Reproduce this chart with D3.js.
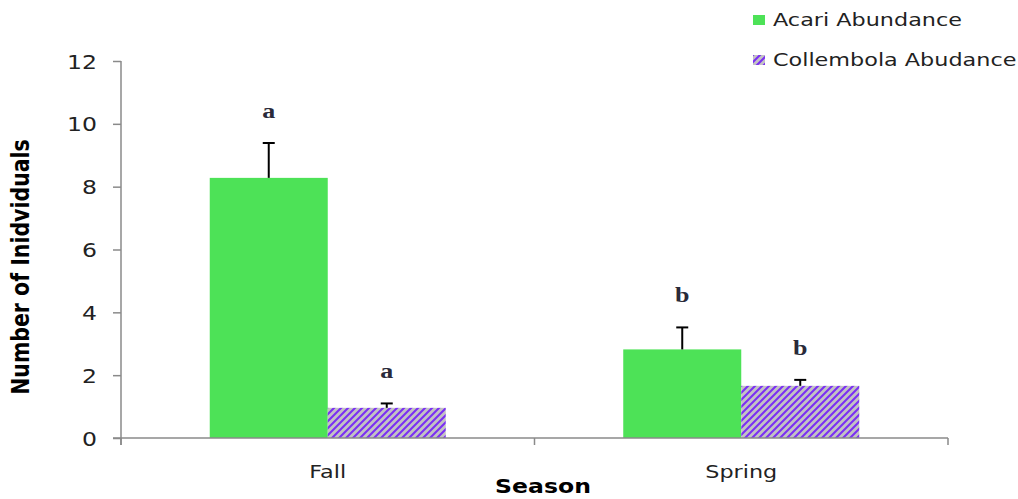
<!DOCTYPE html>
<html>
<head>
<meta charset="utf-8">
<script src="https://cdn.jsdelivr.net/npm/d3@7"></script>
<style>
  html, body { margin: 0; padding: 0; background: #fff; }
  svg { display: block; }
</style>
</head>
<body>
<svg id="chart" width="1018" height="499"></svg>
<script>
// Mean abundance per season, with standard error and significance letters
const seasons = ["Fall", "Spring"];
const seriesNames = ["Acari Abundance", "Collembola Abudance"];
const acariMean = [8.28, 2.82];
const acariErr = [1.11, 0.70];
const collembolaMean = [0.96, 1.66];
const collembolaErr = [0.14, 0.19];
const acariLetters = ["a", "b"];
const collembolaLetters = ["a", "b"];
const yTicks = [0, 2, 4, 6, 8, 10, 12];

const rows = [];
seasons.forEach((s, i) => {
  rows.push({ season: s, series: seriesNames[0], mean: acariMean[i], err: acariErr[i], letter: acariLetters[i] });
  rows.push({ season: s, series: seriesNames[1], mean: collembolaMean[i], err: collembolaErr[i], letter: collembolaLetters[i] });
});

const svg = d3.select("#chart");
const SX = 1.24; // horizontal text stretch
const green = "#4de257";
const purple = "#7b2ff4";
const hatchBg = "#c3c3c3";
const axisColor = "#8a8a8a";

// Diagonal hatch for Collembola
const defs = svg.append("defs");
const pat = defs.append("pattern")
  .attr("id", "hatch")
  .attr("patternUnits", "userSpaceOnUse")
  .attr("width", 7).attr("height", 7);
pat.append("rect").attr("width", 7).attr("height", 7).attr("fill", hatchBg);
pat.append("path")
  .attr("d", "M-2,2 L2,-2 M0,7 L7,0 M5,9 L9,5")
  .attr("stroke", purple).attr("stroke-width", 2.1);

const fills = { [seriesNames[0]]: green, [seriesNames[1]]: "url(#hatch)" };

const y = d3.scaleLinear().domain([0, 12]).range([438, 61]);
const x0 = d3.scaleBand().domain(seasons).range([121, 948]).padding(0);
const x1 = d3.scaleBand().domain(seriesNames).range([0, x0.bandwidth()]).paddingOuter(0.752).paddingInner(0);

function stretchedText(sel, x, yy) {
  return sel.attr("transform", `translate(${x},${yy}) scale(${SX},1)`);
}

// Bars
const g = svg.append("g");
g.selectAll("rect.bar").data(rows).join("rect")
  .attr("class", "bar")
  .attr("x", d => x0(d.season) + x1(d.series))
  .attr("width", x1.bandwidth())
  .attr("y", d => y(d.mean))
  .attr("height", d => y(0) - y(d.mean))
  .attr("fill", d => fills[d.series]);

// Error bars (upper only)
const eb = g.selectAll("g.err").data(rows).join("g").attr("class", "err");
eb.append("line")
  .attr("x1", d => x0(d.season) + x1(d.series) + x1.bandwidth() / 2)
  .attr("x2", d => x0(d.season) + x1(d.series) + x1.bandwidth() / 2)
  .attr("y1", d => y(d.mean))
  .attr("y2", d => y(d.mean + d.err))
  .attr("stroke", "#000").attr("stroke-width", 2);
eb.append("line")
  .attr("x1", d => x0(d.season) + x1(d.series) + x1.bandwidth() / 2 - 6)
  .attr("x2", d => x0(d.season) + x1(d.series) + x1.bandwidth() / 2 + 6)
  .attr("y1", d => y(d.mean + d.err))
  .attr("y2", d => y(d.mean + d.err))
  .attr("stroke", "#000").attr("stroke-width", 2);

// Significance letters
g.selectAll("text.letter").data(rows).join("text")
  .attr("class", "letter")
  .each(function (d) {
    stretchedText(d3.select(this), x0(d.season) + x1(d.series) + x1.bandwidth() / 2, y(d.mean + d.err) - 25);
  })
  .attr("text-anchor", "middle")
  .attr("font-family", "Liberation Serif, serif")
  .attr("font-weight", "bold")
  .attr("font-size", 21)
  .attr("fill", "#2a2a3a")
  .text(d => d.letter);

// Y axis
const yAxis = svg.append("g")
  .attr("transform", "translate(121,0)")
  .call(d3.axisLeft(y).tickValues(yTicks).tickSize(8).tickPadding(0).tickFormat(d3.format("d")));
yAxis.select(".domain").attr("stroke", axisColor).attr("stroke-width", 1.5).attr("d", "M0,61V445");
yAxis.selectAll(".tick line").attr("stroke", axisColor).attr("stroke-width", 1.5);
yAxis.selectAll(".tick text").each(function () {
  const t = d3.select(this);
  t.attr("x", null).attr("dy", null).attr("text-anchor", "end")
    .attr("transform", `translate(-24,7) scale(${SX},1)`)
    .attr("font-family", "DejaVu Sans, Verdana, sans-serif")
    .attr("font-size", 19).attr("fill", "#222");
});

// X axis
const xAxis = svg.append("g").attr("transform", "translate(0,438)");
xAxis.append("line").attr("x1", 113).attr("x2", 948).attr("y1", 0).attr("y2", 0)
  .attr("stroke", axisColor).attr("stroke-width", 1.5);
const boundaries = seasons.map(s => x0(s)).concat([x0(seasons[seasons.length - 1]) + x0.bandwidth()]);
xAxis.selectAll("line.tick").data(boundaries).join("line").attr("class", "tick")
  .attr("x1", d => d).attr("x2", d => d).attr("y1", 0).attr("y2", 7)
  .attr("stroke", axisColor).attr("stroke-width", 1.5);
xAxis.selectAll("text.cat").data(seasons).join("text").attr("class", "cat")
  .each(function (d) { stretchedText(d3.select(this), x0(d) + x0.bandwidth() / 2, 40); })
  .attr("text-anchor", "middle")
  .attr("font-family", "DejaVu Sans, Verdana, sans-serif")
  .attr("font-size", 18).attr("fill", "#222")
  .text(d => d);

// Axis titles
stretchedText(svg.append("text"), 543, 493)
  .attr("text-anchor", "middle")
  .attr("font-family", "DejaVu Sans, Verdana, sans-serif")
  .attr("font-weight", "bold").attr("font-size", 19).attr("fill", "#000")
  .text("Season");
svg.append("text")
  .attr("transform", `translate(29,267) scale(${SX},1) rotate(-90)`)
  .attr("text-anchor", "middle")
  .attr("font-family", "DejaVu Sans, Verdana, sans-serif")
  .attr("font-weight", "bold").attr("font-size", 20.5).attr("fill", "#000")
  .text("Number of Inidviduals");

// Legend
const legend = svg.append("g");
const li = legend.selectAll("g").data(seriesNames).join("g")
  .attr("transform", (d, i) => `translate(753,${15 + i * 40})`);
li.append("rect").attr("width", 12).attr("height", 10).attr("fill", d => fills[d]);
li.append("text")
  .attr("transform", `translate(20,11) scale(${SX},1)`)
  .attr("font-family", "DejaVu Sans, Verdana, sans-serif")
  .attr("font-size", 18).attr("fill", "#222")
  .text(d => d);
</script>
</body>
</html>
